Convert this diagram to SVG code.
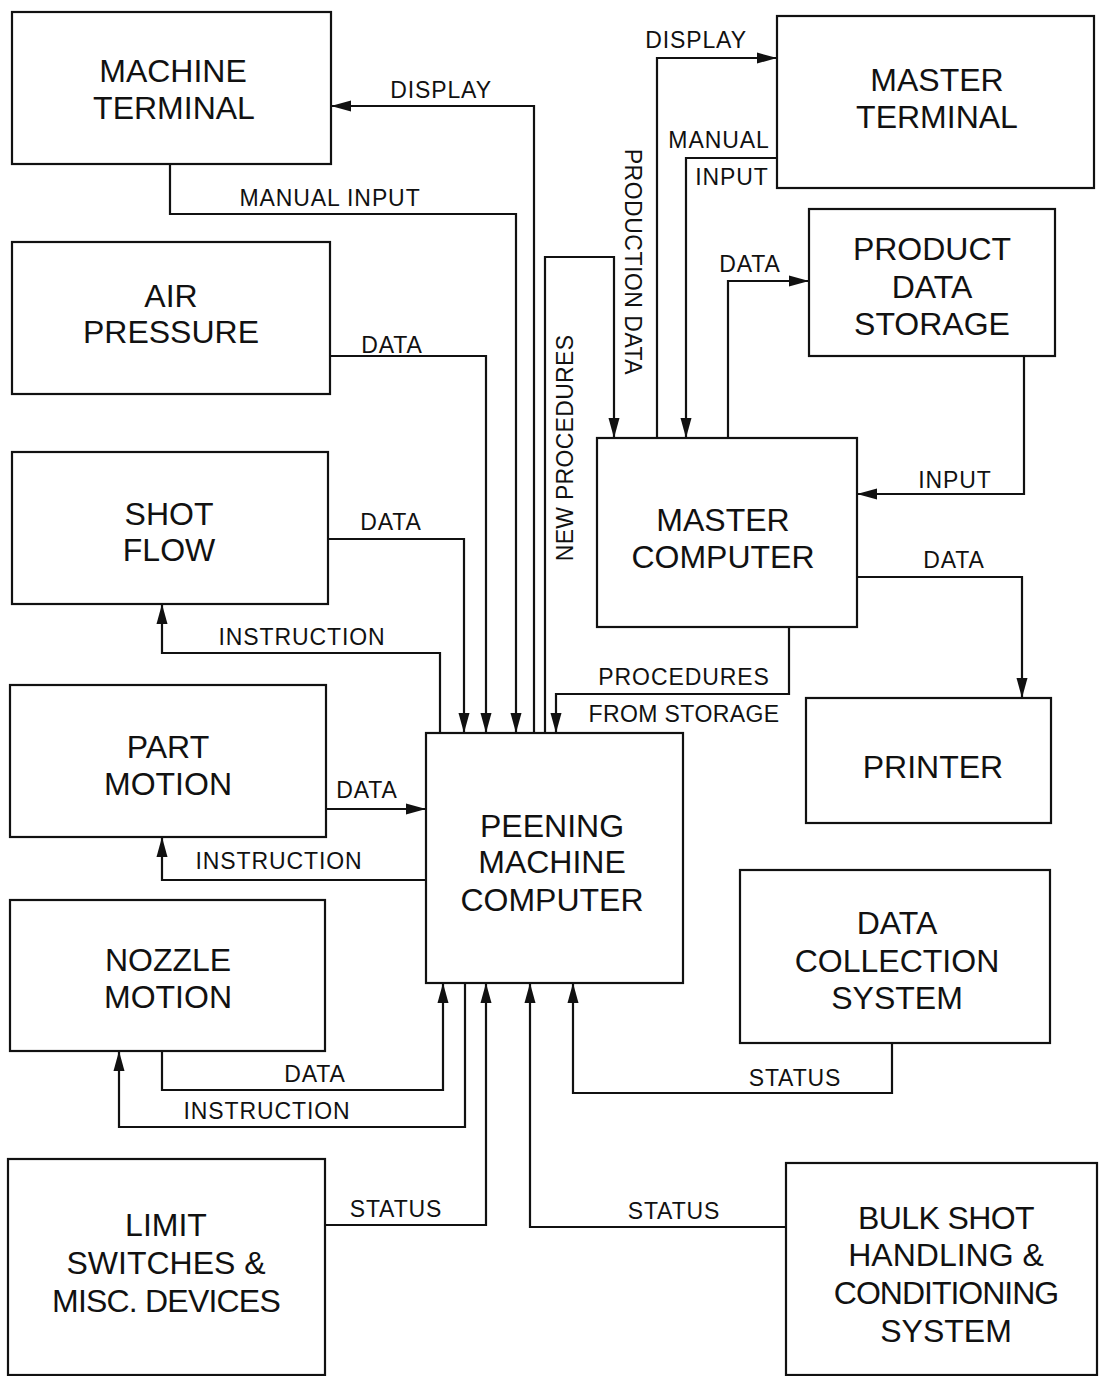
<svg xmlns="http://www.w3.org/2000/svg" width="1103" height="1376" viewBox="0 0 1103 1376">
<style>
.box{fill:#fff;stroke:#111;stroke-width:2.2}
.nt{font-family:"Liberation Sans",Arial,sans-serif;font-size:32px;fill:#111;text-anchor:middle}
.lb{font-family:"Liberation Sans",Arial,sans-serif;font-size:23px;fill:#111;text-anchor:middle;letter-spacing:0.9px}
.c{fill:none;stroke:#111;stroke-width:2.2;marker-end:url(#ah)}
</style>
<defs>
<marker id="ah" markerUnits="userSpaceOnUse" markerWidth="20" markerHeight="12" refX="19" refY="6" orient="auto">
<path d="M0,0.5 L20,6 L0,11.5 z" fill="#111"/>
</marker>
</defs>
<rect width="1103" height="1376" fill="#fff"/>
<g id="connectors">
<path class="c" d="M534,733 V106 H332"/>
<path class="c" d="M170,164 V214 H516 V732"/>
<path class="c" d="M330,356 H486 V732"/>
<path class="c" d="M328,539 H464 V732"/>
<path class="c" d="M440,733 V653 H162 V605"/>
<path class="c" d="M545,733 V257 H614 V437"/>
<path class="c" d="M657,438 V58 H776"/>
<path class="c" d="M777,158 H686 V437"/>
<path class="c" d="M728,438 V281 H808"/>
<path class="c" d="M1024,356 V494 H858"/>
<path class="c" d="M857,577 H1022 V697"/>
<path class="c" d="M789,627 V694 H556 V732"/>
<path class="c" d="M326,809 H425"/>
<path class="c" d="M426,880 H162 V838"/>
<path class="c" d="M162,1051 V1090 H443 V984"/>
<path class="c" d="M465,983 V1127 H119 V1052"/>
<path class="c" d="M325,1225 H486 V984"/>
<path class="c" d="M786,1227 H530 V984"/>
<path class="c" d="M892,1043 V1093 H573 V984"/>
<text class="lb" x="441" y="98">DISPLAY</text>
<text class="lb" x="330" y="206">MANUAL INPUT</text>
<text class="lb" x="392" y="353">DATA</text>
<text class="lb" x="391" y="530">DATA</text>
<text class="lb" x="302" y="645">INSTRUCTION</text>
<text class="lb" x="367" y="798">DATA</text>
<text class="lb" x="279" y="869">INSTRUCTION</text>
<text class="lb" x="315" y="1082">DATA</text>
<text class="lb" x="267" y="1119">INSTRUCTION</text>
<text class="lb" x="396" y="1217">STATUS</text>
<text class="lb" x="674" y="1219">STATUS</text>
<text class="lb" x="795" y="1086">STATUS</text>
<text class="lb" x="696" y="48">DISPLAY</text>
<text class="lb" x="719" y="148">MANUAL</text>
<text class="lb" x="732" y="185">INPUT</text>
<text class="lb" x="750" y="272">DATA</text>
<text class="lb" x="955" y="488">INPUT</text>
<text class="lb" x="954" y="568">DATA</text>
<text class="lb" x="684" y="685">PROCEDURES</text>
<text class="lb" x="684" y="722" style="letter-spacing:0.4px">FROM STORAGE</text>
<text class="lb" transform="translate(573,448) rotate(-90)" style="letter-spacing:0.3px">NEW PROCEDURES</text>
<text class="lb" transform="translate(625,262) rotate(90)" style="letter-spacing:0.5px">PRODUCTION DATA</text>
</g>
<g id="machine-terminal"><rect class="box" x="12" y="12" width="319" height="152"/><text class="nt" x="173" y="82">MACHINE</text><text class="nt" x="174" y="119">TERMINAL</text></g>
<g id="master-terminal"><rect class="box" x="777" y="16" width="317" height="172"/><text class="nt" x="937" y="91">MASTER</text><text class="nt" x="937" y="128">TERMINAL</text></g>
<g id="air-pressure"><rect class="box" x="12" y="242" width="318" height="152"/><text class="nt" x="171" y="307">AIR</text><text class="nt" x="171" y="343">PRESSURE</text></g>
<g id="product-data-storage"><rect class="box" x="809" y="209" width="246" height="147"/><text class="nt" x="932" y="260">PRODUCT</text><text class="nt" x="932" y="298">DATA</text><text class="nt" x="932" y="335">STORAGE</text></g>
<g id="shot-flow"><rect class="box" x="12" y="452" width="316" height="152"/><text class="nt" x="169" y="525">SHOT</text><text class="nt" x="169" y="561">FLOW</text></g>
<g id="master-computer"><rect class="box" x="597" y="438" width="260" height="189"/><text class="nt" x="723" y="531">MASTER</text><text class="nt" x="723" y="568">COMPUTER</text></g>
<g id="part-motion"><rect class="box" x="10" y="685" width="316" height="152"/><text class="nt" x="168" y="758">PART</text><text class="nt" x="168" y="795">MOTION</text></g>
<g id="printer"><rect class="box" x="806" y="698" width="245" height="125"/><text class="nt" x="933" y="778">PRINTER</text></g>
<g id="peening-machine-computer"><rect class="box" x="426" y="733" width="257" height="250"/><text class="nt" x="552" y="837">PEENING</text><text class="nt" x="552" y="873">MACHINE</text><text class="nt" x="552" y="911">COMPUTER</text></g>
<g id="nozzle-motion"><rect class="box" x="10" y="900" width="315" height="151"/><text class="nt" x="168" y="971">NOZZLE</text><text class="nt" x="168" y="1008">MOTION</text></g>
<g id="data-collection-system"><rect class="box" x="740" y="870" width="310" height="173"/><text class="nt" x="897" y="934">DATA</text><text class="nt" x="897" y="972">COLLECTION</text><text class="nt" x="897" y="1009">SYSTEM</text></g>
<g id="limit-switches"><rect class="box" x="8" y="1159" width="317" height="216"/><text class="nt" x="166" y="1236">LIMIT</text><text class="nt" x="166" y="1274">SWITCHES &amp;</text><text class="nt" x="166" y="1312" style="letter-spacing:-0.8px">MISC. DEVICES</text></g>
<g id="bulk-shot"><rect class="box" x="786" y="1163" width="311" height="212"/><text class="nt" x="946" y="1229" style="letter-spacing:-0.6px">BULK SHOT</text><text class="nt" x="946" y="1266">HANDLING &amp;</text><text class="nt" x="946" y="1304" style="letter-spacing:-1px">CONDITIONING</text><text class="nt" x="946" y="1342">SYSTEM</text></g>
</svg>
